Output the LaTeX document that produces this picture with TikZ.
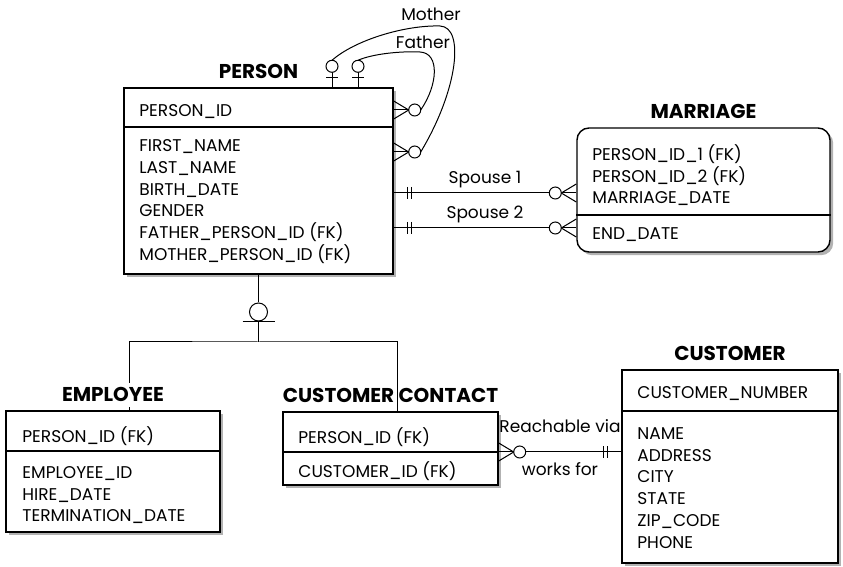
\documentclass[tikz,border=0pt]{standalone}
\usepackage{fontspec}
\setmainfont{Poppins}
\usetikzlibrary{positioning,shadows}

\tikzset{
    entity/.style={draw, line width=0.7pt, fill=white, inner sep=0pt,
        drop shadow={shadow xshift=1.6pt, shadow yshift=-1.6pt, fill=black!30, opacity=1}},
    sepline/.style={line width=0.7pt},
    etitle/.style={font=\fontsize{10}{12}\selectfont\bfseries, inner sep=2.5pt},
    attrs/.style={font=\fontsize{8.5}{10.9}\selectfont, align=left, anchor=north west, inner sep=0pt},
    rel/.style={line width=0.5pt},
    rlabel/.style={font=\fontsize{8.5}{10}\selectfont, inner sep=0pt},
    % zero or many
    pics/crowfoot/.style={code={
        \draw[rel] (0,-9) -- (15,0) -- (0,9);
        \draw[rel] (0,0) -- (15,0);
        \draw[rel, fill=white] (21,0) circle[radius=6];
        \coordinate (-tip) at (27,0);
    }},
    % zero or one
    pics/zeroone/.style={code={
        \draw[rel] (0,0) -- (15,0);
        \draw[rel] (10,-6) -- (10,6);
        \draw[rel, fill=white] (21,0) circle[radius=6];
        \coordinate (-tip) at (27,0);
    }},
    % exactly one
    pics/onebars/.style={code={
        \draw[rel] (14,-6) -- (14,6);
        \draw[rel] (18,-6) -- (18,6);
    }},
}

\begin{document}
\begin{tikzpicture}[x=0.5pt, y=-0.5pt]
    \useasboundingbox (0,0) rectangle (843,567);

    % Entity boxes
    \node[entity, minimum width=134.5pt, minimum height=93pt] (person) at (258.5,181) {};
    \draw[sepline] (person.west |- 0,127) -- (person.east |- 0,127);
    \node[entity, rounded corners=6pt, minimum width=126.5pt, minimum height=62pt] (marriage) at (703.5,190) {};
    \draw[sepline] (marriage.west |- 0,215) -- (marriage.east |- 0,215);
    \node[entity, minimum width=107pt, minimum height=60.5pt] (employee) at (113,471.5) {};
    \draw[sepline] (employee.west |- 0,451) -- (employee.east |- 0,451);
    \node[entity, minimum width=107.5pt, minimum height=36.5pt] (contact) at (390.5,448.5) {};
    \draw[sepline] (contact.west |- 0,452) -- (contact.east |- 0,452);
    \node[entity, minimum width=108pt, minimum height=96.5pt] (customer) at (730,466.5) {};
    \draw[sepline] (customer.west |- 0,411) -- (customer.east |- 0,411);

    % Attributes
    \node[attrs] (personkey) at (139,104) {PERSON\_ID};
    \node[attrs] (personattr) at (139,139) {FIRST\_NAME\\LAST\_NAME\\BIRTH\_DATE\\GENDER\\FATHER\_PERSON\_ID (FK)\\MOTHER\_PERSON\_ID (FK)};
    \node[attrs] (marriagekey) at (592,144) {PERSON\_ID\_1 (FK)\\PERSON\_ID\_2 (FK)\\MARRIAGE\_DATE};
    \node[attrs] (marriageattr) at (592,227) {END\_DATE};
    \node[attrs] (employeekey) at (22,426) {PERSON\_ID (FK)};
    \node[attrs] (employeeattr) at (22,466) {EMPLOYEE\_ID\\HIRE\_DATE\\TERMINATION\_DATE};
    \node[attrs] (contactkey) at (298,427) {PERSON\_ID (FK)};
    \node[attrs] (contactattr) at (298,461) {CUSTOMER\_ID (FK)};
    \node[attrs] (customerkey) at (637,386) {CUSTOMER\_NUMBER};
    \node[attrs] (customerattr) at (637,427) {NAME\\ADDRESS\\CITY\\STATE\\ZIP\_CODE\\PHONE};

    % Mother / Father
    \pic[rotate=90] (mo) at (332,0 |- person.north) {zeroone};
    \pic[rotate=90] (fa) at (358,0 |- person.north) {zeroone};
    \pic (fam) at (person.east |- 0,110) {crowfoot};
    \pic (mom) at (person.east |- 0,152) {crowfoot};
    \draw[rel] (mo-tip) .. controls (355,40) and (405,25) .. (440,26)
        .. controls (465,27) and (458,90) .. (mom-tip);
    \draw[rel] (fa-tip) .. controls (372,54) and (400,51) .. (420,52)
        .. controls (440,53) and (438,85) .. (fam-tip);
    \node[rlabel] (mother) at (431,14) {Mother};
    \node[rlabel] (father) at (423,42) {Father};

    % Spouses
    \draw[rel] (person.east |- 0,193) -- (marriage.west |- 0,193)
        node[rlabel, midway, above=2.5pt] (spouse1) {Spouse 1};
    \draw[rel] (person.east |- 0,228) -- (marriage.west |- 0,228)
        node[rlabel, midway, above=2.5pt] (spouse2) {Spouse 2};
    \pic at (person.east |- 0,193) {onebars};
    \pic at (person.east |- 0,228) {onebars};
    \pic[rotate=180] at (marriage.west |- 0,193) {crowfoot};
    \pic[rotate=180] at (marriage.west |- 0,228) {crowfoot};

    % Subtypes
    \node[draw, rel, circle, minimum size=9pt, inner sep=0pt] (cat) at (258.5,312) {};
    \draw[rel] ([xshift=-8pt]cat.south) -- ([xshift=8pt]cat.south);
    \coordinate (split) at (258.5,342);
    \draw[rel] (person.south) -- (cat.north);
    \draw[rel] (cat.south) -- (split);
    \draw[rel] ([xshift=8pt]employee.north) |- (split) -| ([xshift=3.25pt]contact.north);

    % Contact - customer
    \draw[rel] (contact.east |- 0,452) -- (customer.west |- 0,452)
        node[rlabel, midway, above=9.5pt] (reach) {Reachable via}
        node[rlabel, midway, below=5pt] (works) {works for};
    \pic at (contact.east |- 0,452) {crowfoot};
    \pic[rotate=180] at (customer.west |- 0,452) {onebars};

    % Titles
    \node[etitle, above=1.5pt of person] (persontitle) {PERSON};
    \node[etitle, above=1.5pt of marriage] (marriagetitle) {MARRIAGE};
    \node[etitle, fill=white, above=1.5pt of employee] (employeetitle) {EMPLOYEE};
    \node[etitle, above=1.5pt of contact] (contacttitle) {CUSTOMER CONTACT};
    \node[etitle, above=1.5pt of customer] (customertitle) {CUSTOMER};
\end{tikzpicture}
\end{document}
